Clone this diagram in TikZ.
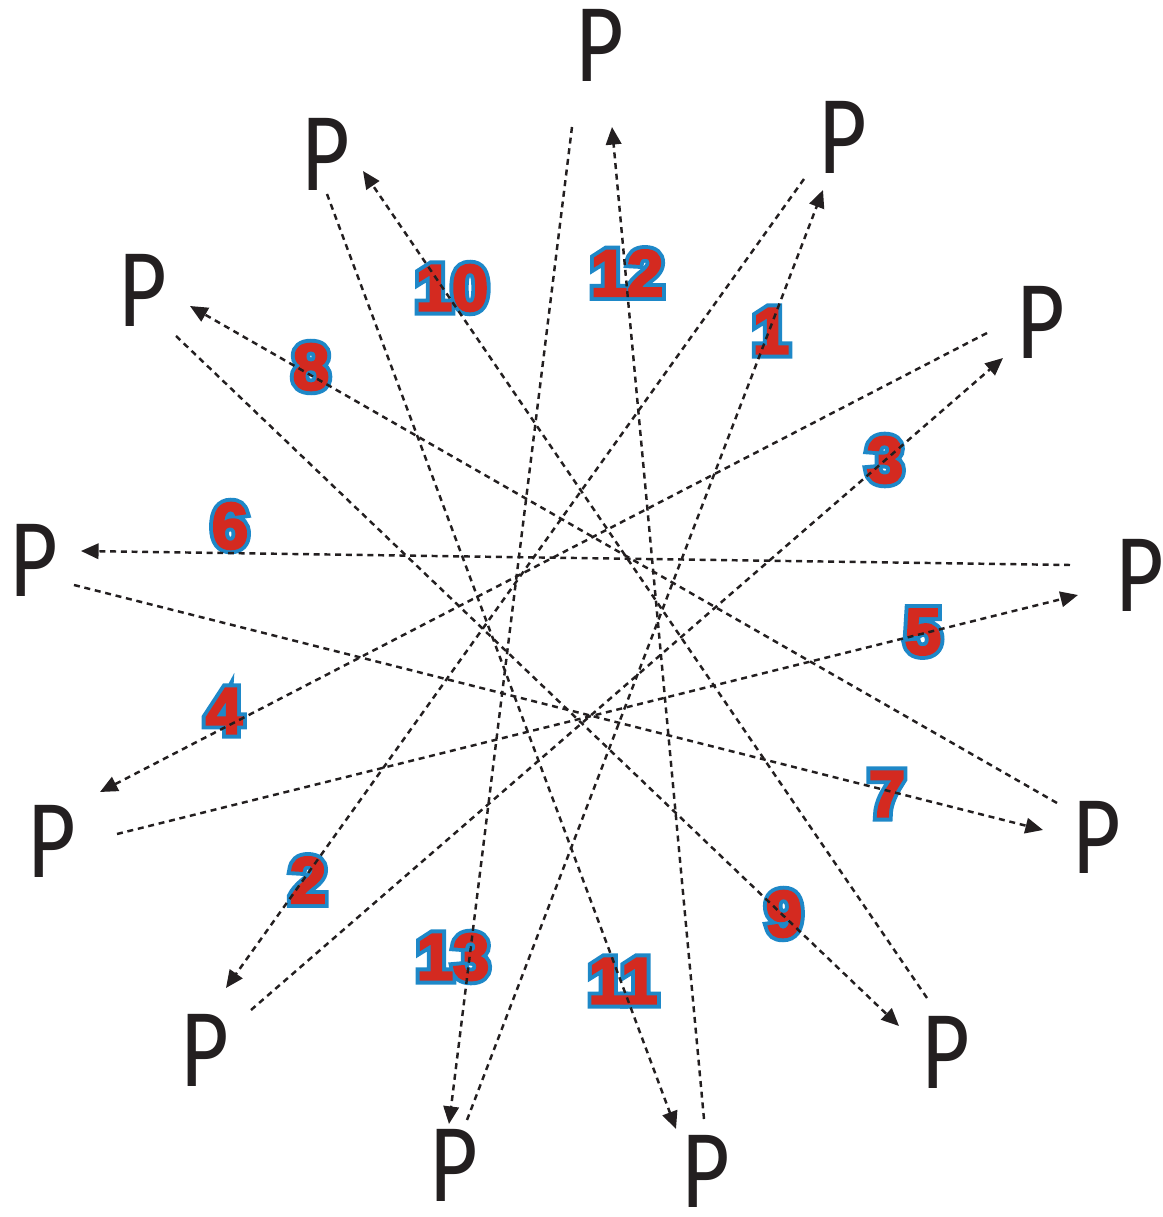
\documentclass[tikz,border=0pt]{standalone}
\usepackage{fontspec}
\usepackage{tikz}
\usetikzlibrary{arrows.meta}
\newfontfamily\pfont{Carlito}[FakeStretch=0.82]
\newfontfamily\numfont{Liberation Sans Bold}[FakeBold=4]
\newfontfamily\numedge{Liberation Sans Bold}[FakeBold=16]
\definecolor{ink}{HTML}{231F20}
\definecolor{numfill}{HTML}{D42A20}
\definecolor{numrim}{HTML}{1E88C8}
\newcommand{\outlined}[1]{\makebox[0pt]{\numedge\color{numrim}#1}\makebox[0pt]{\numfont\color{numfill}#1}}

\begin{document}
\begin{tikzpicture}[every node/.style={inner sep=0pt},
  letter/.style={font=\pfont\fontsize{32}{32}\selectfont, text=ink},
  num/.style={font=\fontsize{18.5}{18.5}\selectfont},
  dotarrow/.style={draw=ink, line width=0.7pt, dash pattern=on 1.7pt off 1.35pt,
    -{Triangle[length=5pt, width=4.4pt]}}]
  \useasboundingbox (0,0) rectangle (11.62,12.17);

  \node[letter] (p0) at (6.00,11.72) {P};
  \node[letter] (p1) at (8.43,10.80) {P};
  \node[letter] (p2) at (10.41,8.95) {P};
  \node[letter] (p3) at (11.40,6.42) {P};
  \node[letter] (p4) at (10.97,3.80) {P};
  \node[letter] (p5) at (9.46,1.65) {P};
  \node[letter] (p6) at (7.06,0.46) {P};
  \node[letter] (p7) at (4.54,0.52) {P};
  \node[letter] (p8) at (2.05,1.67) {P};
  \node[letter] (p9) at (0.52,3.76) {P};
  \node[letter] (p10) at (0.34,6.57) {P};
  \node[letter] (p11) at (1.43,9.27) {P};
  \node[letter] (p12) at (3.26,10.63) {P};

  \node[num] (n1) at (7.71,8.86) {\outlined{1}};
  \node[num] (n2) at (3.08,3.37) {\outlined{2}};
  \node[num] (n3) at (8.85,7.57) {\outlined{3}};
  \node[num] (n4) at (2.24,5.06) {\outlined{4}};
  \node[num] (n5) at (9.23,5.85) {\outlined{5}};
  \node[num] (n6) at (2.30,6.91) {\outlined{6}};
  \node[num] (n7) at (8.87,4.23) {\outlined{7}};
  \node[num] (n8) at (3.11,8.50) {\outlined{8}};
  \node[num] (n9) at (7.84,3.03) {\outlined{9}};
  \node[num] (n10) at (4.52,9.29) {\outlined{10}};
  \node[num] (n11) at (6.23,2.36) {\outlined{11}};
  \node[num] (n12) at (6.27,9.44) {\outlined{12}};
  \node[num] (n13) at (4.53,2.60) {\outlined{13}};

  \draw[dotarrow] ([shift={(0.13,0.45)}]p7.center) -- ([shift={(-0.20,-0.53)}]p1.center);
  \draw[dotarrow] ([shift={(-0.39,-0.42)}]p1.center) -- ([shift={(0.21,0.62)}]p8.center);
  \draw[dotarrow] ([shift={(0.46,0.40)}]p8.center) -- ([shift={(-0.38,-0.36)}]p2.center);
  \draw[dotarrow] ([shift={(-0.54,-0.11)}]p2.center) -- ([shift={(0.48,0.49)}]p9.center);
  \draw[dotarrow] ([shift={(0.65,0.07)}]p9.center) -- ([shift={(-0.62,-0.20)}]p3.center);
  \draw[dotarrow] ([shift={(-0.70,0.10)}]p3.center) -- ([shift={(0.47,0.09)}]p10.center);
  \draw[dotarrow] ([shift={(0.40,-0.25)}]p10.center) -- ([shift={(-0.54,0.07)}]p4.center);
  \draw[dotarrow] ([shift={(-0.40,0.34)}]p4.center) -- ([shift={(0.47,-0.16)}]p11.center);
  \draw[dotarrow] ([shift={(0.33,-0.46)}]p11.center) -- ([shift={(-0.47,0.26)}]p5.center);
  \draw[dotarrow] ([shift={(-0.19,0.54)}]p5.center) -- ([shift={(0.37,-0.17)}]p12.center);
  \draw[dotarrow] ([shift={(0.01,-0.40)}]p12.center) -- ([shift={(-0.30,0.42)}]p6.center);
  \draw[dotarrow] ([shift={(-0.02,0.52)}]p6.center) -- ([shift={(0.12,-0.82)}]p0.center);
  \draw[dotarrow] ([shift={(-0.28,-0.82)}]p0.center) -- ([shift={(-0.05,0.41)}]p7.center);
\end{tikzpicture}
\end{document}
